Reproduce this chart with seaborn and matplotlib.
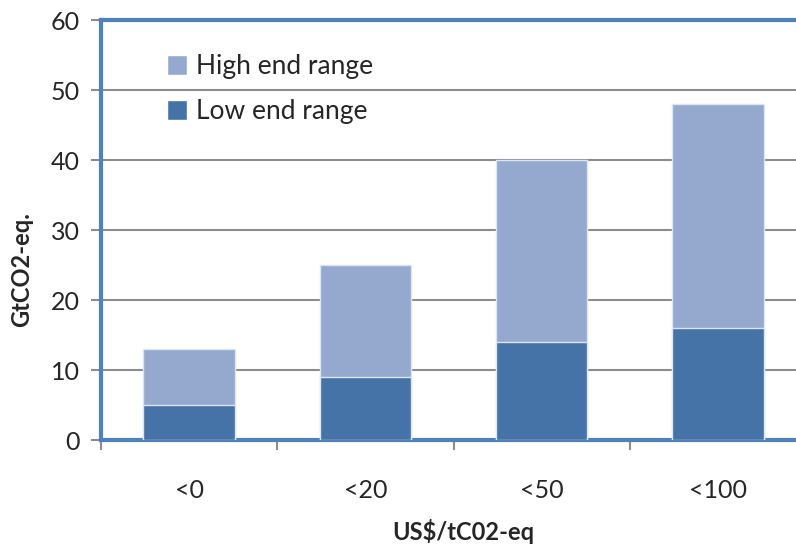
import matplotlib
matplotlib.use("Agg")
import matplotlib.pyplot as plt
import seaborn as sns
import pandas as pd
from matplotlib.patches import Patch

# data
categories = ["<0", "<20", "<50", "<100"]
low_end = [5, 9, 14, 16]
high_end_total = [13, 25, 40, 48]

sns.set_style("white")
plt.rcParams['font.family'] = ['Lato', 'DejaVu Sans']

light = "#95A9CF"
dark = "#4573A7"
frame = "#4F81BD"

df = pd.DataFrame({"cat": categories, "low": low_end, "high": high_end_total})

fig = plt.figure(figsize=(7.96, 5.49), dpi=100)
ax = fig.add_axes([101 / 796, 109 / 549, 705 / 796, 420 / 549])

sns.barplot(data=df, x="cat", y="high", color=light, width=0.52, saturation=1,
            edgecolor="#dce6f2", linewidth=1, ax=ax, zorder=3)
sns.barplot(data=df, x="cat", y="low", color=dark, width=0.52, saturation=1,
            edgecolor="#dce6f2", linewidth=1, ax=ax, zorder=4)

ax.set_xlim(-0.5, 3.5)
ax.set_ylim(0, 60)
ax.set_yticks(range(0, 61, 10))
ax.yaxis.grid(True, color="#8c8c8c", linewidth=1.5, zorder=1)
ax.set_axisbelow(True)

# blue border around the plot area (right side falls outside the picture)
for side in ["top", "bottom", "left"]:
    ax.spines[side].set_color(frame)
    ax.spines[side].set_linewidth(3)
ax.spines["right"].set_visible(False)

# category labels at centers, tick marks at boundaries
ax.set_xticks([-0.5, 0.5, 1.5, 2.5, 3.5])
ax.set_xticklabels([])
ax.set_xticks(range(len(categories)), minor=True)
ax.set_xticklabels(categories, minor=True)
ax.tick_params(axis="x", which="major", length=7, width=1.5, color="#8c8c8c", direction="out")
ax.tick_params(axis="x", which="minor", length=0, pad=28, labelsize=18)
ax.tick_params(axis="y", length=7, width=1.5, color="#8c8c8c", direction="out", labelsize=18, pad=8)
ax.tick_params(left=True, bottom=True)

ax.set_xlabel("")
ax.set_ylabel("")
fig.text(463 / 796, 1 - 532 / 549, "US$/tC02-eq", fontsize=17, fontweight="bold",
         ha="center", va="center")
fig.text(22 / 796, 1 - 270 / 549, "GtCO2-eq.", fontsize=17, fontweight="bold",
         ha="center", va="center", rotation=90)

handles = [Patch(facecolor=light, label="High end range"),
           Patch(facecolor=dark, label="Low end range")]
ax.legend(handles=handles, loc="upper left", bbox_to_anchor=(0.06, 0.975), frameon=False,
          fontsize=19, handlelength=0.75, handleheight=0.75, handletextpad=0.35,
          labelspacing=0.75)

fig.savefig("out.png", dpi=100)
